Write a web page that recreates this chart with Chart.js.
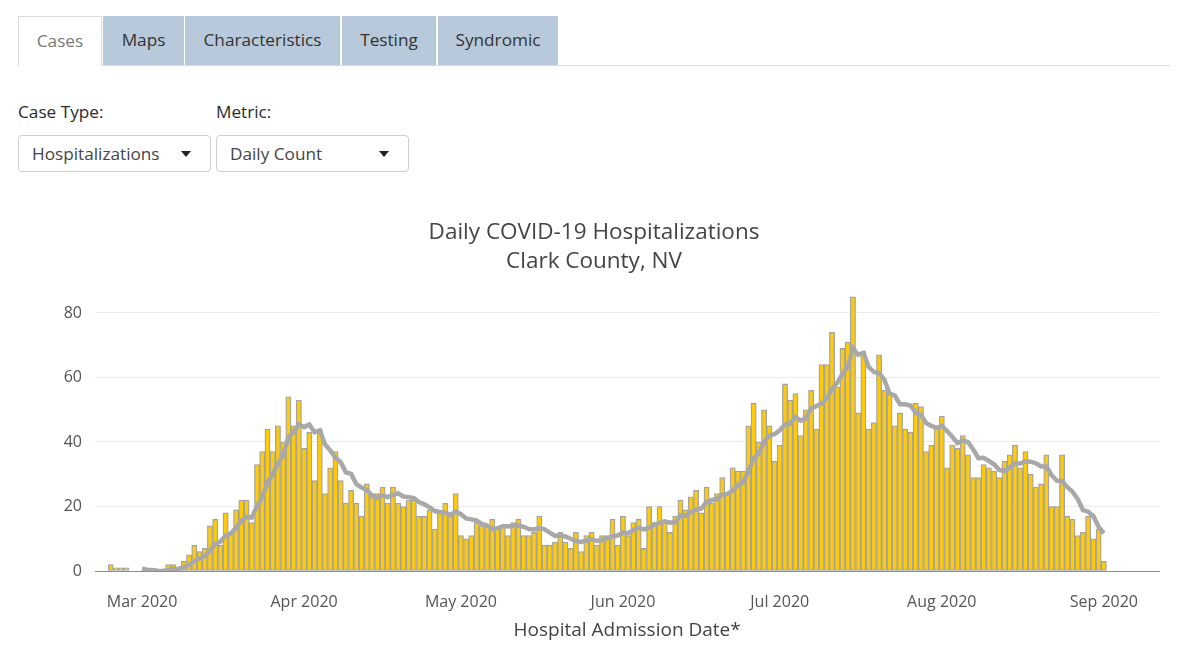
<!DOCTYPE html>
<html>
<head>
<meta charset="utf-8">
<script src="https://cdn.jsdelivr.net/npm/chart.js@4"></script>
<style>
  html,body{margin:0;padding:0;background:#fff;}
  body{width:1200px;height:658px;overflow:hidden;position:relative;font-family:"Open Sans",sans-serif;}
  .tabs{position:absolute;left:18px;top:16px;width:1152px;height:49px;border-bottom:1px solid #dcdcdc;}
  .tab{position:absolute;top:0;height:49px;line-height:48px;text-align:center;font-size:17.2px;color:#333;background:#b8c9db;box-sizing:border-box;}
  .tab.active{background:#fff;border:1px solid #dcdcdc;border-bottom:none;color:#777;height:50px;}
  .lbl{position:absolute;top:100px;font-size:17.2px;color:#2a2a2a;}
  .sel{position:absolute;top:135px;height:37px;box-sizing:border-box;border:1px solid #cfcfcf;border-radius:4px;background:#fff;font-size:17.2px;color:#444;line-height:35px;padding-left:13px;}
  .caret{position:absolute;top:15px;width:0;height:0;border-left:5px solid transparent;border-right:5px solid transparent;border-top:6px solid #222;}
  #wrap{position:absolute;left:28px;top:210px;width:1132px;height:448px;}
</style>
</head>
<body>
<div class="tabs">
  <div class="tab active" style="left:0;width:84px;">Cases</div>
  <div class="tab" style="left:85px;width:81px;">Maps</div>
  <div class="tab" style="left:167px;width:155px;">Characteristics</div>
  <div class="tab" style="left:324px;width:94px;">Testing</div>
  <div class="tab" style="left:420px;width:120px;">Syndromic</div>
</div>
<div class="lbl" style="left:18px;">Case Type:</div>
<div class="lbl" style="left:216px;">Metric:</div>
<div class="sel" style="left:18px;width:193px;">Hospitalizations<span class="caret" style="left:162px;"></span></div>
<div class="sel" style="left:216px;width:193px;">Daily Count<span class="caret" style="left:162px;"></span></div>
<div id="wrap"><canvas id="c" width="1132" height="448"></canvas></div>
<script>
// ---- data ----
const startDate = '2020-02-24';   // first admission date shown; one bar per day
const hospitalizations = [
  // Feb 24-29
  2,1,1,1,0,0,
  // Mar
  0,0,0,0,0,2,2,1,3,5,8,6,7,14,16,8,18,12,19,22,22,15,33,37,44,37,45,40,54,45,53,
  // Apr
  38,43,28,44,24,32,37,28,21,25,21,17,27,24,24,26,21,26,21,20,22,22,17,17,19,13,18,21,17,24,
  // May
  11,10,11,15,14,14,16,13,14,11,15,16,11,11,12,17,8,8,9,12,9,7,12,6,11,12,8,11,11,16,8,
  // Jun
  17,11,15,16,7,20,15,20,15,12,17,22,19,23,25,18,26,21,24,29,24,32,31,31,45,52,40,50,45,34,
  // Jul
  39,58,53,55,42,50,56,44,64,64,74,57,69,71,85,49,68,44,46,67,56,55,45,49,44,43,52,51,37,39,45,
  // Aug
  48,32,39,38,42,36,29,29,33,32,31,29,34,36,39,32,37,30,26,27,36,20,20,36,17,16,11,12,17,10,13,
  // Sep 1
  3
];
const avg7 = [
  null,null,null,null,null,null,
  0.7,0.4,0.3,0.1,0,0.3,0.6,0.7,1.1,1.9,3.0,3.9,4.6,6.3,8.4,9.1,11.0,11.6,13.4,15.6,16.7,16.6,20.1,22.9,27.4,30.0,33.3,35.9,41.4,43.1,45.4,
  44.6,45.4,43.0,43.6,39.3,37.4,35.1,33.7,30.6,30.1,26.9,25.9,25.1,23.3,22.7,23.4,22.9,23.6,24.1,23.1,22.9,22.6,21.3,20.7,19.7,18.6,18.3,18.1,17.4,18.4,
  17.6,16.3,16.0,15.6,14.6,14.1,13.0,13.3,13.9,13.9,13.9,14.1,13.7,13.0,12.9,13.3,12.9,11.9,10.9,11.0,10.7,10.0,9.3,9.0,9.4,9.9,9.3,9.6,10.1,10.7,11.0,
  11.9,11.7,12.7,13.4,12.9,13.4,14.4,14.9,15.4,15.0,15.1,17.3,17.1,18.3,19.0,19.4,21.4,22.0,22.3,23.7,23.9,24.9,26.7,27.4,30.9,34.9,36.4,40.1,42.0,42.4,
  43.6,45.4,45.6,47.7,46.6,47.3,50.4,51.1,52.0,53.6,56.3,58.4,61.1,63.3,69.1,67.0,67.6,63.3,61.7,61.4,59.3,55.0,54.4,51.7,51.7,51.3,49.1,48.4,45.9,45.0,44.4,
  45.0,43.4,41.6,39.7,40.4,40.0,37.7,35.0,35.1,34.1,33.1,31.3,31.0,32.0,33.4,33.3,34.0,33.9,33.4,32.4,32.4,29.7,28.0,27.9,26.0,24.6,22.3,18.9,18.4,17.0,13.7,
  11.7
];
const xTickDates = ['2020-03-01','2020-04-01','2020-05-01','2020-06-01','2020-07-01','2020-08-01','2020-09-01'];
const xTickLabels = ['Mar 2020','Apr 2020','May 2020','Jun 2020','Jul 2020','Aug 2020','Sep 2020'];
const yTicks = [0,20,40,60,80];
const xRange = ['2020-02-21','2020-09-12'];

// ---- helpers ----
const DAY = 86400000;
const origin = Date.UTC(2020,2,1);
function dayIndex(s){ const p=s.split('-').map(Number); return (Date.UTC(p[0],p[1]-1,p[2])-origin)/DAY; }
const startIdx = dayIndex(startDate);
const dates = hospitalizations.map((_,i)=>{ const d=new Date(origin+(startIdx+i)*DAY); return d.toISOString().slice(0,10); });
const barPts = hospitalizations.map((v,i)=>({x:dayIndex(dates[i]), y:v}));
const linePts = avg7.map((v,i)=>({x:dayIndex(dates[i]), y:v}));
const tickVals = xTickDates.map(dayIndex);

const FONT = '"Open Sans", sans-serif';
new Chart(document.getElementById('c'), {
  type:'bar',
  data:{
    datasets:[
      {type:'line', label:'7-day average', data:linePts, borderColor:'#a8a8a8', borderWidth:4.5,
       pointRadius:0, tension:0, fill:false, order:0, spanGaps:false},
      {type:'bar', label:'Hospitalizations', data:barPts, backgroundColor:'#ffcb08',
       borderColor:'#a3a3a3', borderWidth:1.3, borderSkipped:false,
       barPercentage:1.0, categoryPercentage:1.0, order:1}
    ]
  },
  options:{
    responsive:false, animation:false, devicePixelRatio:1,
    layout:{padding:0},
    plugins:{
      legend:{display:false}, tooltip:{enabled:false},
      title:{display:true, text:['Daily COVID-19 Hospitalizations','Clark County, NV'], color:'#444',
        font:{family:FONT, size:22.5, weight:'normal', lineHeight:1.29}, padding:{top:8.5,bottom:13.5}}
    },
    scales:{
      x:{type:'linear', min:dayIndex(xRange[0]), max:dayIndex(xRange[1])-0.4, offset:false,
        grid:{display:false, drawTicks:false},
        border:{display:true, color:'#8c8c8c', width:1},
        afterBuildTicks:(s)=>{ s.ticks = tickVals.map(v=>({value:v})); },
        afterFit:(s)=>{ s.height = 87; },
        ticks:{autoSkip:false, maxRotation:0, color:'#555', padding:22,
          font:{family:FONT,size:16},
          callback:(v,i)=>xTickLabels[i]},
        title:{display:true, text:'Hospital Admission Date*', color:'#444',
          font:{family:FONT,size:19}, padding:{top:0,bottom:16}}
      },
      y:{type:'linear', min:0, max:87.1,
        grid:{color:'#ececec', drawTicks:false},
        border:{display:false},
        afterBuildTicks:(s)=>{ s.ticks = yTicks.map(v=>({value:v})); },
        afterFit:(s)=>{ s.width = 67; },
        ticks:{color:'#555', padding:13, font:{family:FONT,size:16}}
      }
    }
  }
});
</script>
</body>
</html>
